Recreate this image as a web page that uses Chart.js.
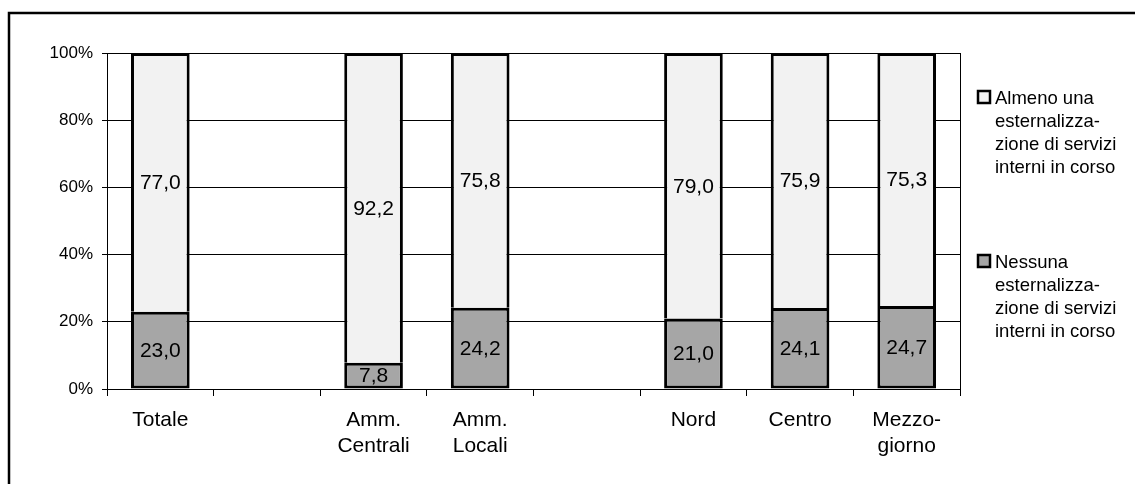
<!DOCTYPE html>
<html>
<head>
<meta charset="utf-8">
<script src="https://cdn.jsdelivr.net/npm/chart.js@4/dist/chart.umd.min.js"></script>
<style>
  html, body { margin: 0; padding: 0; background: #fff; }
  #c { display: block; }
</style>
</head>
<body>
<canvas id="c" width="1135" height="484"></canvas>
<script>
"use strict";

// categorie (le vuote sono spaziatori fra i gruppi)
var categories = ["Totale", "", ["Amm.", "Centrali"], ["Amm.", "Locali"], "", "Nord", "Centro", ["Mezzo-", "giorno"]];
var nessuna = [23.0, null, 7.8, 24.2, null, 21.0, 24.1, 24.7];
var almeno = [77.0, null, 92.2, 75.8, null, 79.0, 75.9, 75.3];
var yTicks = [0, 20, 40, 60, 80, 100];
var labelNessuna = ["Nessuna", "esternalizza-", "zione di servizi", "interni in corso"];
var labelAlmeno = ["Almeno una", "esternalizza-", "zione di servizi", "interni in corso"];

var FONT = "Arial, 'Liberation Sans', sans-serif";

var fmt = function(v) {
  return v.toFixed(1).replace(".", ",");
};

// cornice, bordo destro dell'area, etichette e legenda
var extras = {
  id: "extras",
  afterDraw: function(chart) {
    var ctx = chart.ctx;
    var a = chart.chartArea;
    ctx.save();

    ctx.strokeStyle = "#000";
    ctx.lineWidth = 1;
    ctx.beginPath();
    ctx.moveTo(Math.round(a.right) + 0.5, a.top);
    ctx.lineTo(Math.round(a.right) + 0.5, a.bottom);
    ctx.stroke();

    ctx.lineWidth = 2.5;
    ctx.beginPath();
    ctx.moveTo(9, 490);
    ctx.lineTo(9, 13);
    ctx.lineTo(1140, 13);
    ctx.stroke();

    // valori al centro dei segmenti
    ctx.fillStyle = "#000";
    ctx.font = "21px " + FONT;
    ctx.textAlign = "center";
    ctx.textBaseline = "middle";
    chart.data.datasets.forEach(function(ds, i) {
      var meta = chart.getDatasetMeta(i);
      meta.data.forEach(function(el, j) {
        var v = ds.data[j];
        if (v === null) return;
        var p = el.getCenterPoint();
        ctx.fillText(fmt(v), p.x, p.y + 1);
      });
    });

    // legenda
    var items = [
      { lines: labelAlmeno, color: chart.data.datasets[1].backgroundColor, y: 104 },
      { lines: labelNessuna, color: chart.data.datasets[0].backgroundColor, y: 268 }
    ];
    ctx.font = "18.5px " + FONT;
    ctx.textAlign = "left";
    ctx.textBaseline = "alphabetic";
    items.forEach(function(it) {
      ctx.fillStyle = it.color;
      ctx.fillRect(978, it.y - 13, 12, 12);
      ctx.strokeStyle = "#000";
      ctx.lineWidth = 2.5;
      ctx.strokeRect(978, it.y - 13, 12, 12);
      ctx.fillStyle = "#000";
      it.lines.forEach(function(t, k) {
        ctx.fillText(t, 995, it.y + k * 23);
      });
    });

    ctx.restore();
  }
};

new Chart(document.getElementById("c"), {
  type: "bar",
  data: {
    labels: categories,
    datasets: [
      {
        label: labelNessuna.join(" "),
        data: nessuna,
        backgroundColor: "#a6a6a6",
        borderColor: "#000",
        borderWidth: 3,
        borderSkipped: false
      },
      {
        label: labelAlmeno.join(" "),
        data: almeno,
        backgroundColor: "#f2f2f2",
        borderColor: "#000",
        borderWidth: { top: 3, left: 3, right: 3, bottom: 0 },
        borderSkipped: false
      }
    ]
  },
  options: {
    responsive: false,
    animation: false,
    events: [],
    layout: { padding: { left: 0, right: 175, top: 53, bottom: 0 } },
    datasets: { bar: { categoryPercentage: 1, barPercentage: 0.55 } },
    plugins: {
      legend: { display: false },
      tooltip: { enabled: false },
      title: { display: false }
    },
    scales: {
      x: {
        stacked: true,
        grid: { offset: true, drawOnChartArea: false, drawTicks: true, tickLength: 7, color: "#000", lineWidth: 1 },
        border: { color: "#000", width: 1 },
        ticks: {
          color: "#000",
          font: { family: FONT, size: 21, lineHeight: 1.25 },
          padding: 11,
          maxRotation: 0,
          autoSkip: false
        },
        afterFit: function(s) { s.height = 95; }
      },
      y: {
        stacked: true,
        min: 0,
        max: 100,
        afterBuildTicks: function(s) {
          s.ticks = yTicks.map(function(v) { return { value: v }; });
        },
        grid: { color: "#000", lineWidth: 1, tickLength: 5 },
        border: { color: "#000", width: 1 },
        ticks: {
          color: "#000",
          font: { family: FONT, size: 17 },
          padding: 9,
          callback: function(v) { return v + "%"; }
        },
        afterFit: function(s) { s.width = 107; }
      }
    }
  },
  plugins: [extras]
});
</script>
</body>
</html>
